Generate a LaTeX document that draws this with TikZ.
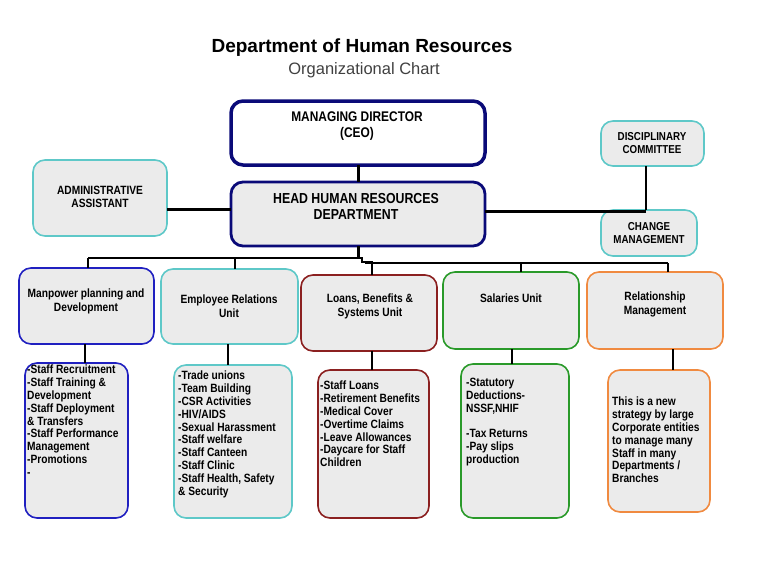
\documentclass[tikz,border=0pt]{standalone}
\usepackage{fontspec}
\setmainfont{Liberation Sans}
\newfontfamily\narrowf[FakeStretch=0.85]{Liberation Sans}
\begin{document}
\begin{tikzpicture}[x=1pt,y=-1pt,
  box/.style={draw=#1,line width=1.6pt,rounded corners=12pt,fill=boxgray},
  txt/.style={font=\narrowf\bfseries\fontsize{12}{14}\selectfont,align=center},
  lst/.style={font=\narrowf\bfseries\fontsize{12}{12.8}\selectfont,align=left,anchor=north west,inner sep=0pt},
  con/.style={line width=1.2pt}]
\definecolor{boxgray}{HTML}{EBEBEB}
\definecolor{navy}{HTML}{0A0A78}
\definecolor{cyanb}{HTML}{5EC8C8}
\definecolor{blueb}{HTML}{2020C0}
\definecolor{redb}{HTML}{8B2020}
\definecolor{greenb}{HTML}{2A9A2A}
\definecolor{orangeb}{HTML}{F08A40}
\useasboundingbox (0,0) rectangle (768,576);
\node[font=\bfseries\fontsize{19}{22}\selectfont] (title) at (362,48) {Department of Human Resources};
\node[font=\fontsize{16.5}{19}\selectfont,text=black!75] (sub) at (364,70) {Organizational Chart};
% boxes
\draw[box=navy,line width=3.5pt,fill=white] (231,101) rectangle (485,165);
\node (md) at (358,133) {}; \node[txt,font=\narrowf\bfseries\fontsize{14}{16}\selectfont] at (357,126) {MANAGING DIRECTOR\\(CEO)};
\draw[box=navy,line width=2.8pt] (231,182) rectangle (485,246);
\node (hr) at (358,214) {}; \node[txt,font=\narrowf\bfseries\fontsize{14.5}{16}\selectfont] at (356,206) {HEAD HUMAN RESOURCES\\DEPARTMENT};
\draw[box=cyanb] (33,160) rectangle (167,236);
\node[txt,font=\narrowf\bfseries\fontsize{12}{13}\selectfont] (ad) at (100,197) {ADMINISTRATIVE\\ASSISTANT};
\draw[box=cyanb] (601,121) rectangle (704,166);
\node[txt,font=\narrowf\bfseries\fontsize{11.5}{13}\selectfont] (dc) at (652,143) {DISCIPLINARY\\COMMITTEE};
\draw[box=cyanb] (601,210) rectangle (697,256);
\node[txt,font=\narrowf\bfseries\fontsize{11.5}{13}\selectfont] (cm) at (649,233) {CHANGE\\MANAGEMENT};
% level 2
\draw[box=blueb] (19,268) rectangle (154,344);
\node[txt] (u1) at (86,301) {Manpower planning and\\Development};
\draw[box=cyanb] (161,269) rectangle (298,344);
\node[txt] (u2) at (229,306) {Employee Relations\\Unit};
\draw[box=redb] (301,275) rectangle (437,351);
\node[txt] (u3) at (370,306) {Loans, Benefits \&\\Systems Unit};
\draw[box=greenb] (443,272) rectangle (579,349);
\node[txt] (u4) at (511,298) {Salaries Unit};
\draw[box=orangeb] (587,272) rectangle (723,349);
\node[txt] (u5) at (655,304) {Relationship\\Management};
% level 3
\draw[box=blueb] (25,363) rectangle (128,518);
\node[lst] (l1) at (27,365) {-Staff Recruitment\\-Staff Training \&\\Development\\-Staff Deployment\\\& Transfers\\-Staff Performance\\Management\\-Promotions\\-};
\draw[box=cyanb] (174,365) rectangle (292,518);
\node[lst] (l2) at (178,371) {-Trade unions\\-Team Building\\-CSR Activities\\-HIV/AIDS\\-Sexual Harassment\\-Staff welfare\\-Staff Canteen\\-Staff Clinic\\-Staff Health, Safety\\\& Security};
\draw[box=redb] (318,370) rectangle (429,518);
\node[lst] (l3) at (320,381) {-Staff Loans\\-Retirement Benefits\\-Medical Cover\\-Overtime Claims\\-Leave Allowances\\-Daycare for Staff\\Children};
\draw[box=greenb] (461,364) rectangle (569,518);
\node[lst] (l4) at (466,378) {-Statutory\\Deductions-\\NSSF,NHIF\\\\-Tax Returns\\-Pay slips\\production};
\draw[box=orangeb] (608,370) rectangle (710,512);
\node[lst] (l5) at (612,397) {This is a new\\strategy by large\\Corporate entities\\to manage many\\Staff in many\\Departments /\\Branches};
% connectors
\draw[line width=3pt] (358,165) -- (358,182);
\draw[line width=3pt] (167,209) -- (231,209);
\draw[line width=3pt] (485,211) -- (646,211);
\draw[line width=1.5pt] (646,166) -- (646,210);
\draw[line width=3pt] (358,246) -- (358,258);
\draw[line width=2.5pt] (237,258) -- (358,258);
\draw[con] (88,258) -- (237,258) (88,258) -- (88,268) (235,258) -- (235,269);
\draw[con] (358,258) -- (362,258) -- (362,262) -- (372,262) -- (372,275);
\draw[con] (365,263) -- (668,263) (521,263) -- (521,272) (668,263) -- (668,272);
\draw[line width=2pt] (85,344) -- (85,363) (228,344) -- (228,365) (372,351) -- (372,370) (512,349) -- (512,364) (673,349) -- (673,370);
\end{tikzpicture}
\end{document}
